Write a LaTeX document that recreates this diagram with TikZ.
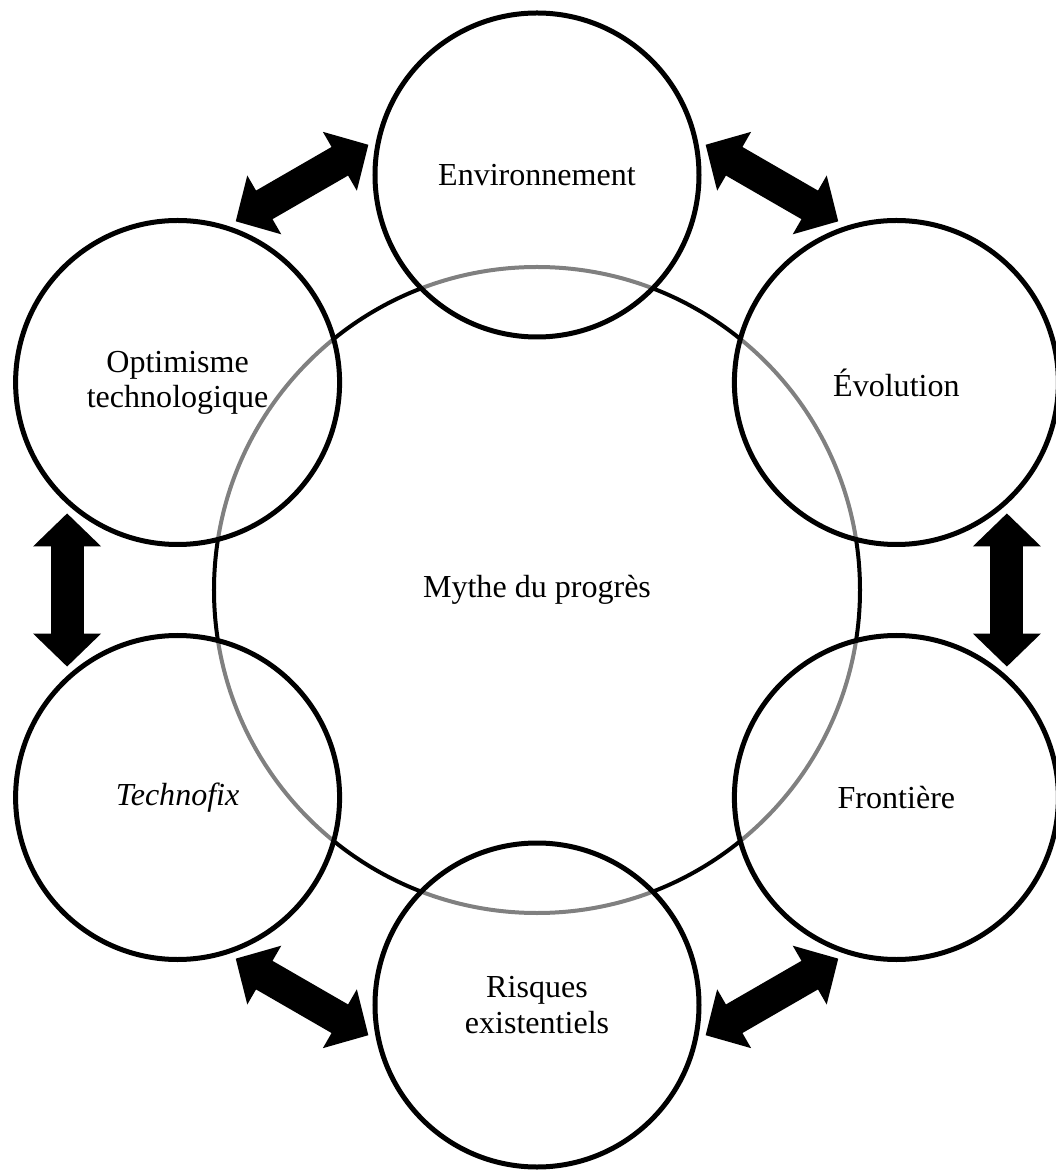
\documentclass[tikz,border=0pt]{standalone}
\usepackage{fontspec}
\setmainfont{Liberation Serif}
\usetikzlibrary{arrows.meta}

\tikzset{
  bigcircle/.style={circle, draw=black, line width=0.1cm, minimum size=16.15cm, inner sep=0pt, outer sep=0pt},
  themecircle/.style={circle, draw=black, line width=0.125cm, fill=white, fill opacity=0.5, text opacity=1,
    minimum size=8.1cm, inner sep=0pt, outer sep=0pt, align=center},
  dblarrow/.style={black, line width=0.825cm,
    arrows={Triangle[width=1.65cm,length=0.825cm]-Triangle[width=1.65cm,length=0.825cm]},
    shorten <=0.31cm, shorten >=0.31cm}
}

\begin{document}
\begin{tikzpicture}[font=\fontsize{22.8}{25}\selectfont]
                \useasboundingbox (-13.425,-14.5) rectangle (12.95,14.75);
                \node [bigcircle] (mythe) at (0, 0) {Mythe du progrès};
                \node [themecircle] (env) at (90:10.375) {Environnement};
                \node [themecircle] (evo) at (30:10.375) {Évolution};
                \node [themecircle] (fro) at (-30:10.375) {Frontière};
                \node [themecircle] (ris) at (-90:10.375) {Risques\\existentiels};
                \node [themecircle] (tec) at (-150:10.375) {\textit{Technofix}};
                \node [themecircle] (opt) at (150:10.375) {Optimisme\\technologique};
                \draw [dblarrow] (env.13) -- (evo.107);
                \draw [dblarrow] (evo.-47) -- (fro.47);
                \draw [dblarrow] (fro.-107) -- (ris.-13);
                \draw [dblarrow] (ris.-167) -- (tec.-73);
                \draw [dblarrow] (tec.133) -- (opt.227);
                \draw [dblarrow] (opt.73) -- (env.167);
            \end{tikzpicture}
\end{document}
